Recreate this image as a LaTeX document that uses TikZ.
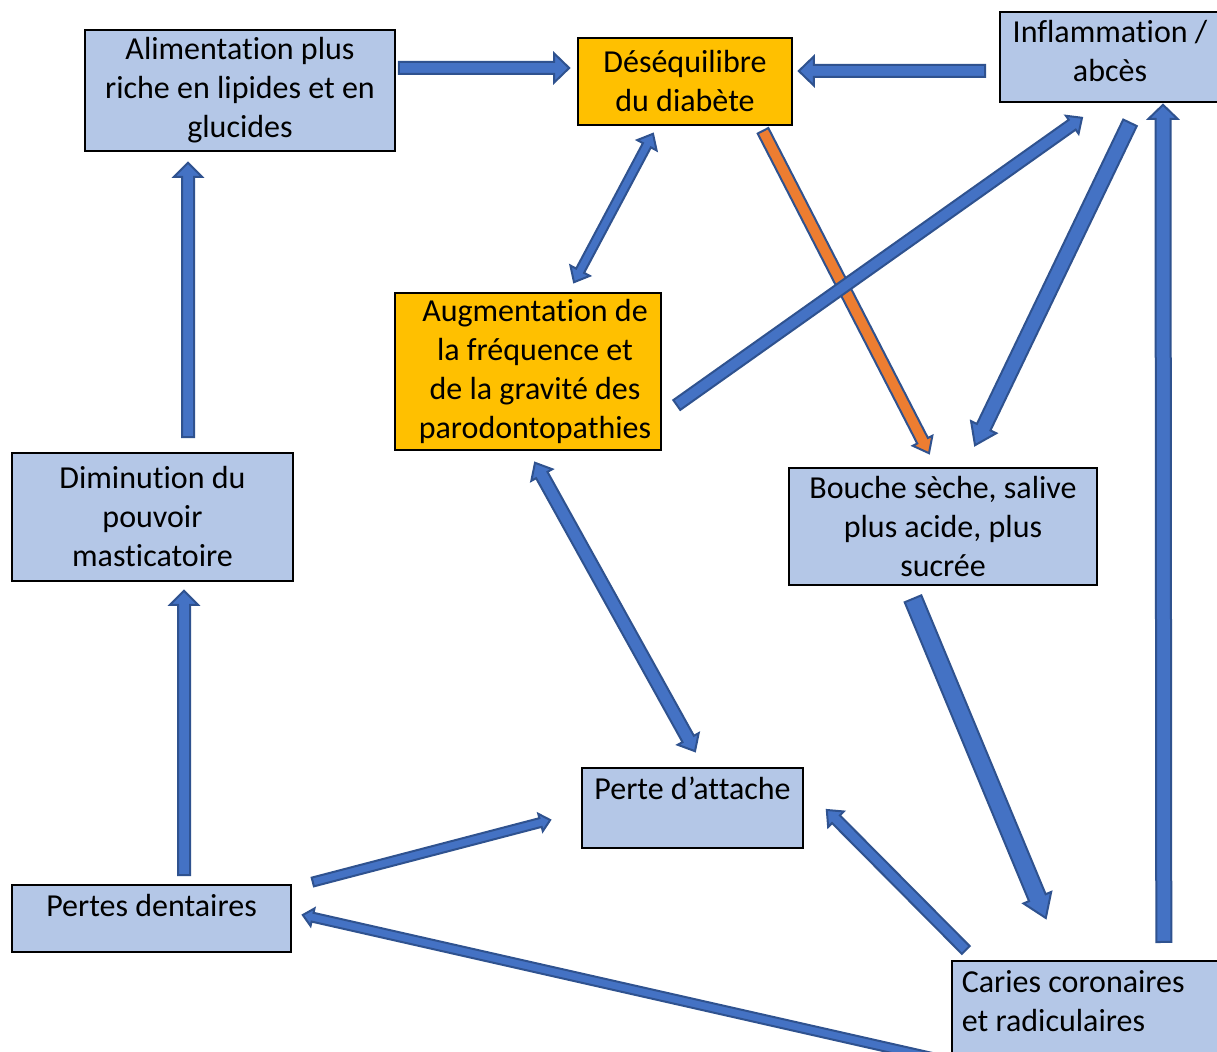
\documentclass[tikz,border=0pt]{standalone}
\usepackage{fontspec}
\setmainfont{Carlito}[Ligatures=NoCommon]
\usetikzlibrary{calc,positioning}

\definecolor{boxblue}{HTML}{B4C7E7}
\definecolor{boxorange}{HTML}{FFC000}
\definecolor{arrfill}{HTML}{4472C4}
\definecolor{arrline}{HTML}{2F528F}
\definecolor{arrorange}{HTML}{ED7D31}

% block arrow: [style]{from}{to}{half shaft}{half head}{head length}
\newcommand{\blockarrow}[6][arrowblue]{%
  \coordinate (baS) at (#2); \coordinate (baE) at (#3);
  \coordinate (baC) at ($(baE)!#6!(baS)$);
  \filldraw[#1] ($(baS)!#4!90:(baE)$) -- ($(baC)!#4!-90:(baS)$) -- ($(baC)!#5!-90:(baS)$)
    -- (baE) -- ($(baC)!#5!90:(baS)$) -- ($(baC)!#4!90:(baS)$) -- ($(baS)!#4!-90:(baE)$) -- cycle;}
% same, with a head at both ends
\newcommand{\dblarrow}[6][arrowblue]{%
  \coordinate (baS) at (#2); \coordinate (baE) at (#3);
  \coordinate (baA) at ($(baS)!#6!(baE)$);
  \coordinate (baB) at ($(baE)!#6!(baS)$);
  \filldraw[#1] (baS) -- ($(baA)!#5!90:(baE)$) -- ($(baA)!#4!90:(baE)$) -- ($(baB)!#4!-90:(baS)$)
    -- ($(baB)!#5!-90:(baS)$) -- (baE) -- ($(baB)!#5!90:(baS)$) -- ($(baB)!#4!90:(baS)$)
    -- ($(baA)!#4!-90:(baE)$) -- ($(baA)!#5!-90:(baE)$) -- cycle;}

\begin{document}
\begin{tikzpicture}[
    x=0.5pt, y=-0.5pt,
    box/.style={
        rectangle, draw, fill=boxblue, line width=0.8pt,
        align=center, inner ysep=1pt, font=\fontsize{16}{19.5}\selectfont
    },
    hot/.style={box, fill=boxorange},
    arrowblue/.style={fill=arrfill, draw=arrline, line width=1pt},
    arroworange/.style={fill=arrorange, draw=arrline, line width=1pt}
]
\fill[white] (0,0) rectangle (1217,1052);
\useasboundingbox (0,0) rectangle (1217,1052);

% Nodes
\node[box, minimum width=155pt, minimum height=60.5pt] (ali) at (240,90.5)
    {Alimentation plus\\riche en lipides et en\\glucides};
\node[hot, minimum width=107pt, minimum height=43.5pt] (des) at (685,81.5)
    {Déséquilibre\\du diabète};
\node[box, minimum width=110pt, minimum height=45pt] (inf) at (1110,57)
    {Inflammation /\\abcès\rule[-6pt]{0pt}{0pt}};
\node[hot, minimum width=133pt, minimum height=78.5pt] (aug) at (528,371.5)
    {\hspace*{7pt}Augmentation de\\\hspace*{7pt}la fréquence et\\\hspace*{7pt}de la gravité des\\\hspace*{7pt}parodontopathies};
\node[box, minimum width=140.5pt, minimum height=64pt] (dim) at (152.5,517)
    {Diminution du\\pouvoir\\masticatoire};
\node[box, minimum width=154pt, minimum height=58.5pt] (bou) at (943,526.5)
    {Bouche sèche, salive\\plus acide, plus\\sucrée};
\node[box, minimum width=110.5pt, minimum height=40pt, text height=12pt, text depth=20pt] (per) at (692.5,808)
    {Perte d’attache};
\node[box, minimum width=139.5pt, minimum height=33.5pt, text height=12pt, text depth=13.5pt] (pde) at (151.5,918.5)
    {Pertes dentaires};
\node[box, anchor=north west, align=flush left, text width=130pt, inner xsep=5pt, inner ysep=5pt] (car) at (951,960)
    {Caries coronaires\\et radiculaires\rule[-30pt]{0pt}{0pt}};

% Arrows
\blockarrow{$(ali.east)+(3,-22.5)$}{$(des.west)+(-8,-13.5)$}{3pt}{7.25pt}{7.5pt}
\blockarrow{$(inf.west)+(-14,14)$}{$(des.east)+(6,-10.5)$}{3pt}{7.25pt}{7.5pt}
\dblarrow{$(des.south)+(-32,8)$}{$(aug.north)+(46,-10)$}{2.25pt}{5.5pt}{6.5pt}
\blockarrow[arroworange]{$(des.south)+(78,5)$}{$(bou.north)+(-14,-14)$}{3pt}{5.5pt}{7pt}
\blockarrow{$(aug.east)+(15,33.5)$}{$(inf.south)+(-28,15)$}{3pt}{5.5pt}{6pt}
\blockarrow{$(inf.south)+(20,20)$}{$(bou.north)+(32,-22)$}{3.75pt}{7pt}{10pt}
\blockarrow{$(car.north)+(72,-18)$}{$(inf.south)+(53,2)$}{3.75pt}{7.25pt}{7pt}
\dblarrow{$(aug.south)+(7,12)$}{$(per.north)+(2.5,-16)$}{3.25pt}{6pt}{7pt}
\blockarrow{$(bou.south)+(-30,13)$}{$(car.north)+(-46,-42)$}{4.5pt}{7.5pt}{11pt}
\blockarrow{$(car.north)+(-126,-10)$}{$(per.east)+(23,2)$}{2.75pt}{5.5pt}{6.5pt}
\blockarrow{$(pde.east)+(21,-36.5)$}{$(per.west)+(-31,12)$}{2.25pt}{4.5pt}{5pt}
\blockarrow{$(car.west)+(-11,28)$}{$(pde.east)+(11,-3.5)$}{2.25pt}{4.5pt}{5pt}
\blockarrow{$(pde.north)+(32.5,-9)$}{$(dim.south)+(31.5,9)$}{3pt}{7pt}{7pt}
\blockarrow{$(dim.north)+(35.5,-15)$}{$(ali.south)+(-52,11)$}{3pt}{7pt}{7pt}

\end{tikzpicture}
\end{document}
